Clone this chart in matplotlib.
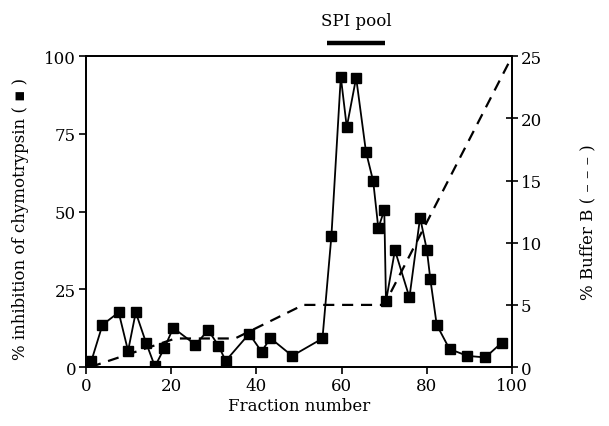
import matplotlib
matplotlib.use('Agg')
import matplotlib.pyplot as plt

plt.rcParams['font.family'] = ['DejaVu Serif']

# % inhibition of chymotrypsin per fraction
fraction = [1.3, 3.9, 7.7, 9.9, 11.7, 14.1, 16.2, 18.4, 20.5, 25.7, 28.7, 31.1,
            32.8, 38.3, 41.2, 43.3, 48.4, 55.5, 57.6, 59.8, 61.2, 63.4, 65.7,
            67.4, 68.6, 70.0, 70.4, 72.5, 75.9, 78.4, 80.0, 80.8, 82.3, 85.3,
            89.5, 93.7, 97.6]
inhibition = [2.0, 13.6, 17.6, 5.2, 17.6, 7.9, 0.2, 6.1, 12.6, 7.2, 11.9, 6.9,
              2.0, 10.7, 5.0, 9.3, 3.6, 9.2, 42.2, 93.4, 77.2, 93.1, 69.3,
              59.8, 44.7, 50.5, 21.1, 37.6, 22.4, 48.1, 37.6, 28.3, 13.6, 5.8,
              3.6, 3.1, 7.9]

# % buffer B gradient (dashed)
grad_x = [1, 21, 35, 51, 70, 100]
grad_b = [0, 2.3, 2.3, 5, 5, 25]

pool = (56.6, 70.2)

fig = plt.figure(figsize=(6.09, 4.27), dpi=100, facecolor='white')
ax = fig.add_axes([0.141, 0.138, 0.700, 0.728])
ax2 = ax.twinx()

ax2.plot(grad_x, grad_b, color='black', lw=1.6, ls=(0, (5, 3.5)))
ax.plot(fraction, inhibition, color='black', lw=1.3, marker='s', ms=7,
        mfc='black', mec='black')
ax.set_zorder(ax2.get_zorder() + 1)
ax.patch.set_visible(False)

ax.set_xlim(0, 100)
ax.set_ylim(0, 100)
ax2.set_ylim(0, 25)

ax.set_xticks([0, 20, 40, 60, 80, 100])
ax.set_yticks([0, 25, 50, 75, 100])
ax2.set_yticks([0, 5, 10, 15, 20, 25])

for a in (ax, ax2):
    for s in a.spines.values():
        s.set_linewidth(1.3)
ax.tick_params(axis='both', direction='out', length=5, width=1.2,
               labelsize=12, pad=2)
ax2.tick_params(axis='y', direction='inout', length=8, width=1.2,
                labelsize=12, pad=2)

ax.set_xlabel('Fraction number', fontsize=12, labelpad=2)
fig.text(0.033, 0.487, '% inhibition of chymotrypsin ( \u25aa )', rotation=90,
         fontsize=12, ha='center', va='center')
fig.text(0.966, 0.48, '% Buffer B ( \u2013 \u2013 \u2013 )', rotation=90,
         fontsize=12, ha='center', va='center')

# SPI pool bar above the plot
ax.plot(pool, [104.4, 104.4], color='black', lw=3.2, clip_on=False,
        solid_capstyle='butt')
ax.text(sum(pool) / 2, 108.6, 'SPI pool', fontsize=12, ha='center',
        va='bottom')

fig.savefig('out.png', dpi=100, facecolor='white')
